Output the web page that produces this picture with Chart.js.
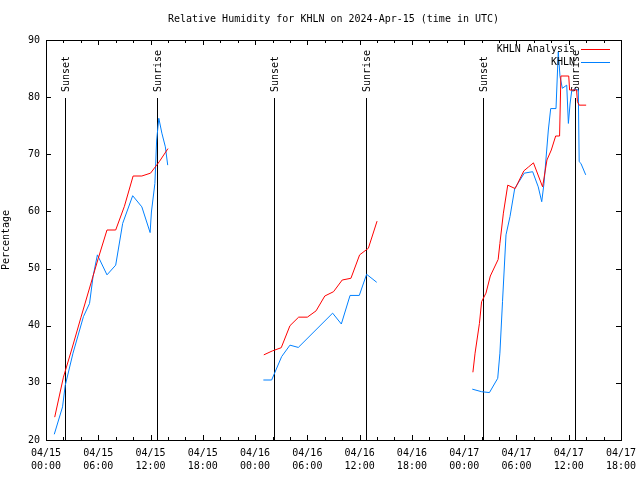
<!DOCTYPE html>
<html>
<head>
<meta charset="utf-8">
<script src="https://cdn.jsdelivr.net/npm/chart.js@4"></script>
<style>
  body { margin: 0; background: #fff; }
  canvas { display: block; }
</style>
</head>
<body>
<canvas id="rhChart" width="640" height="480"></canvas>
<script>
// hours since 04/15 00:00 UTC; null RH = gap between days
const analysisHours = [1, 2, 3, 4, 5, 6, 7, 8, 9, 10, 11, 12, 13, 14,
    20,
    25, 26, 27, 28, 29, 30, 31, 32, 33, 34, 35, 36, 37, 38,
    44,
    49.0, 49.25, 49.75, 50.0, 50.5, 51.0, 51.9, 52.1, 52.5, 53.0, 53.85, 54.85, 55.4, 55.95,
    57.0, 57.5, 58.0, 58.5, 58.95, 59.1, 60.0, 60.1, 60.9, 61.0, 61.2, 62.0];
const analysisRH = [24.0, 31.0, 36.1, 41.4, 46.6, 51.8, 56.75, 56.75, 60.9, 66.2, 66.2, 66.7, 68.7, 71.0,
    null,
    34.9, 35.6, 36.15, 40.0, 41.5, 41.5, 42.6, 45.2, 45.95, 48.0, 48.3, 52.4, 53.55, 58.3,
    null,
    31.85, 35.2, 40.4, 44.2, 45.7, 48.7, 51.6, 54.4, 59.7, 64.6, 64.0, 67.1, 67.8, 68.5,
    64.3, 69.0, 70.75, 73.2, 73.2, 83.7, 83.7, 81.25, 81.25, 79.2, 78.6, 78.6];

const obsHours = [0.95, 1.9, 2.2, 3.1, 4.3, 5.0, 5.4, 5.9, 7.0, 8.0, 8.8, 9.95, 11.0, 11.95,
    12.1, 12.5, 12.7, 12.95, 13.3, 13.7, 13.97,
    20,
    24.95, 25.9, 27.05, 28.0, 28.96, 32.9, 33.9, 34.9, 35.96, 36.8, 37.96,
    44,
    48.93, 50.0, 50.9, 51.85, 52.1, 52.4, 52.8, 53.26, 53.8, 54.9, 55.86, 56.5, 56.9, 57.16,
    57.66, 57.93, 58.54, 58.8, 59.0, 59.27, 59.77, 59.96, 60.15, 60.34, 60.72, 61.1, 61.2,
    61.4, 61.95];
const obsRH = [21.0, 25.8, 29.5, 35.2, 41.6, 43.9, 48.6, 52.4, 48.9, 50.6, 57.9, 62.75, 60.8, 56.3,
    59.9, 64.9, 72.5, 76.3, 73.7, 71.3, 68.1,
    null,
    30.5, 30.5, 34.6, 36.6, 36.2, 42.2, 40.3, 45.3, 45.3, 49.0, 47.6,
    null,
    28.9, 28.45, 28.3, 30.8, 35.2, 44.2, 55.9, 59.1, 64.0, 66.7, 66.95, 64.3, 61.7, 64.9,
    74.25, 78.0, 78.0, 87.95, 83.6, 81.55, 82.1, 75.4, 78.8, 81.1, 81.4, 81.25, 68.7,
    68.4, 66.4];

const sunsetHours = [2.17, 26.17, 50.17];
const sunriseHours = [12.73, 36.73, 60.73];

const titleText = "Relative Humidity for KHLN on 2024-Apr-15 (time in UTC)";
const FONT = "'DejaVu Sans Mono', 'Liberation Mono', monospace";

function hourLabel(v) {
    const day = 15 + Math.floor(v / 24);
    const hh = String(v % 24).padStart(2, "0");
    return ["04/" + day, hh + ":00"];
}

const toPoints = (xs, ys) => xs.map((h, i) => ({ x: h, y: ys[i] }));

// sunrise / sunset markers, drawn under the data
const sunLines = {
    id: "sunLines",
    beforeDatasetsDraw(chart) {
        const { ctx, chartArea: a, scales: { x } } = chart;
        const h = a.bottom - a.top;
        const lineTop = a.bottom - 0.855 * h;
        const textEnd = a.bottom - 0.87 * h;
        ctx.save();
        ctx.strokeStyle = "#000";
        ctx.lineWidth = 1;
        ctx.fillStyle = "#000";
        ctx.font = "10px " + FONT;
        ctx.textAlign = "left";
        ctx.textBaseline = "middle";
        const marks = sunsetHours.map(t => [t, "Sunset"]).concat(sunriseHours.map(t => [t, "Sunrise"]));
        marks.forEach(([t, label]) => {
            const px = Math.round(x.getPixelForValue(t)) + 0.5;
            ctx.beginPath();
            ctx.moveTo(px, lineTop);
            ctx.lineTo(px, a.bottom);
            ctx.stroke();
            ctx.save();
            ctx.translate(px + 1, textEnd);
            ctx.rotate(-Math.PI / 2);
            ctx.fillText(label, 0, 0);
            ctx.restore();
        });
        ctx.restore();
    }
};

// gnuplot style frame: box, inward ticks, title, key
const frame = {
    id: "frame",
    afterDatasetsDraw(chart) {
        const { ctx, chartArea: a, scales: { x, y } } = chart;
        ctx.save();
        ctx.strokeStyle = "#000";
        ctx.lineWidth = 1;
        ctx.beginPath();
        for (let hr = 0; hr <= 66; hr += 2) {
            const px = Math.round(x.getPixelForValue(hr)) + 0.5;
            const len = hr % 6 === 0 ? 5 : 3;
            ctx.moveTo(px, a.bottom); ctx.lineTo(px, a.bottom - len);
            ctx.moveTo(px, a.top); ctx.lineTo(px, a.top + len);
        }
        for (let v = 20; v <= 90; v += 10) {
            const py = Math.round(y.getPixelForValue(v)) + 0.5;
            ctx.moveTo(a.left, py); ctx.lineTo(a.left + 5, py);
            ctx.moveTo(a.right, py); ctx.lineTo(a.right - 5, py);
        }
        ctx.stroke();
        ctx.strokeRect(a.left + 0.5, a.top + 0.5, a.right - a.left, a.bottom - a.top);

        ctx.fillStyle = "#000";
        ctx.font = "10px " + FONT;
        ctx.textAlign = "center";
        ctx.textBaseline = "middle";
        ctx.fillText(titleText, (a.left + a.right) / 2, 19);

        // key, top right
        ctx.textAlign = "right";
        chart.data.datasets.forEach((ds, i) => {
            const ky = a.top + 9.5 + i * 13;
            ctx.fillStyle = "#000";
            ctx.fillText(ds.label, a.right - 46, ky);
            ctx.strokeStyle = ds.borderColor;
            ctx.beginPath();
            ctx.moveTo(a.right - 40, ky);
            ctx.lineTo(a.right - 11, ky);
            ctx.stroke();
        });
        ctx.restore();
    }
};

new Chart(document.getElementById("rhChart"), {
    type: "line",
    data: {
        datasets: [{
            label: "KHLN Analysis",
            data: toPoints(analysisHours, analysisRH),
            borderColor: "#ff0000",
            borderWidth: 1,
            pointRadius: 0,
            tension: 0
        }, {
            label: "KHLN",
            data: toPoints(obsHours, obsRH),
            borderColor: "#0080ff",
            borderWidth: 1,
            pointRadius: 0,
            tension: 0
        }]
    },
    options: {
        responsive: false,
        animation: false,
        spanGaps: false,
        layout: { padding: { top: 40, right: 19, left: 0, bottom: 0 } },
        plugins: {
            legend: { display: false },
            title: { display: false },
            tooltip: { enabled: false }
        },
        scales: {
            x: {
                type: "linear",
                min: 0,
                max: 66,
                grid: { display: false, drawTicks: false },
                border: { display: false },
                afterFit: s => { s.height = 40; s.paddingLeft = 0; s.paddingRight = 0; },
                ticks: {
                    stepSize: 6,
                    autoSkip: false,
                    maxRotation: 0,
                    padding: 7,
                    color: "#000",
                    font: { family: FONT, size: 10, lineHeight: 1.3 },
                    callback: v => hourLabel(v)
                }
            },
            y: {
                min: 20,
                max: 90,
                grid: { display: false, drawTicks: false },
                border: { display: false },
                afterFit: s => { s.width = 46; s.paddingTop = 0; s.paddingBottom = 0; },
                ticks: {
                    stepSize: 10,
                    padding: 6,
                    color: "#000",
                    font: { family: FONT, size: 10 }
                },
                title: {
                    display: true,
                    text: "Percentage",
                    color: "#000",
                    padding: { top: 0, bottom: 0 },
                    font: { family: FONT, size: 10 }
                }
            }
        }
    },
    plugins: [sunLines, frame]
});
</script>
</body>
</html>
